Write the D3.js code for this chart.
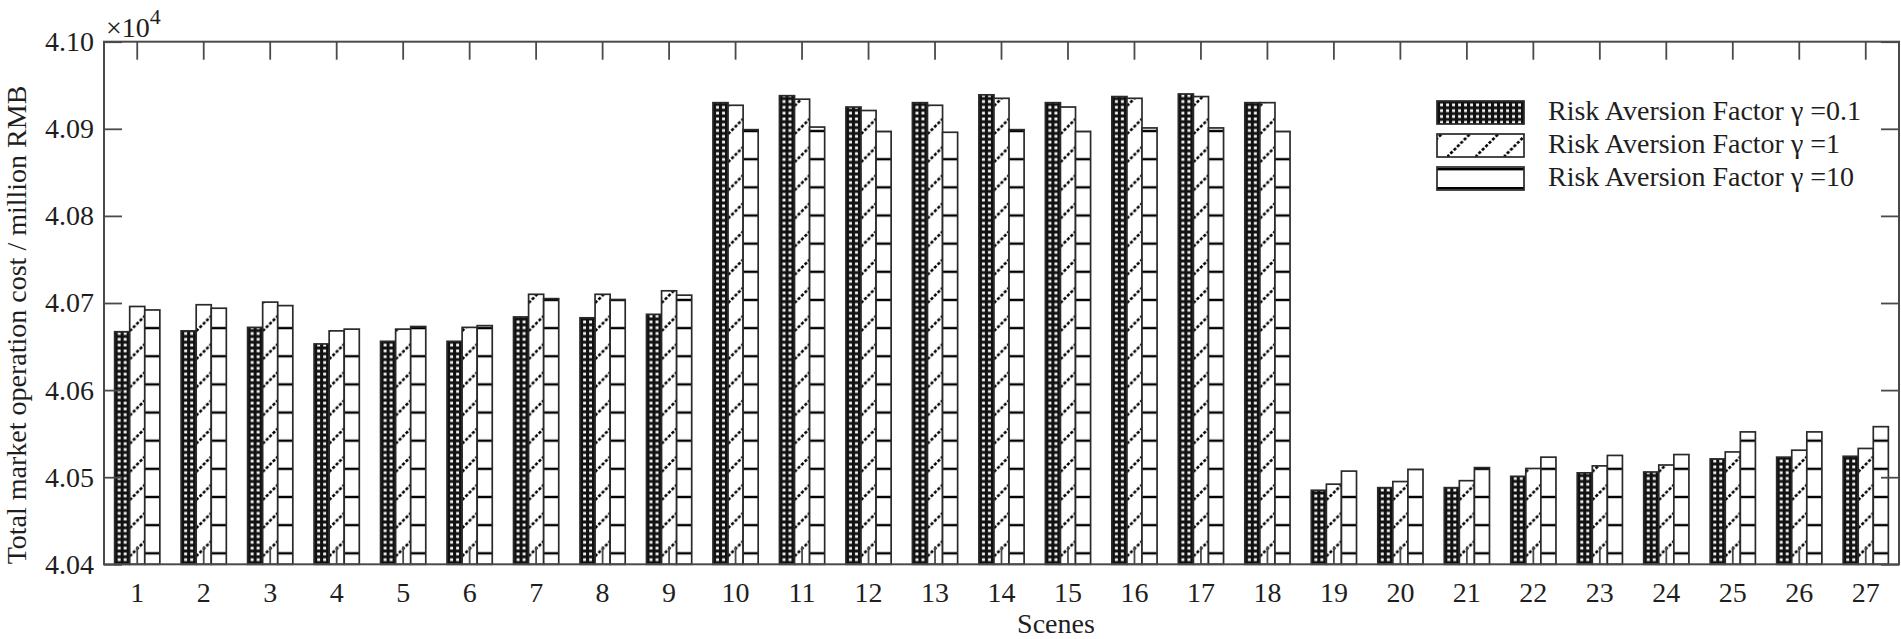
<!DOCTYPE html>
<html><head><meta charset="utf-8">
<script src="https://cdn.jsdelivr.net/npm/d3@7"></script>
<style>
body{margin:0;background:#fff}
svg{display:block}
</style>
</head><body>
<svg id="c" width="1901" height="639"></svg>
<script>
// ---------------- data ----------------
const categories = ["1","2","3","4","5","6","7","8","9","10","11","12","13","14","15","16","17","18","19","20","21","22","23","24","25","26","27"];
const seriesNames = ["Risk Aversion Factor \u03b3 =0.1", "Risk Aversion Factor \u03b3 =1", "Risk Aversion Factor \u03b3 =10"];
const gamma01 = [4.0667,4.0668,4.0672,4.0653,4.0656,4.0656,4.0684,4.0683,4.0687,4.0930,4.0938,4.0925,4.0930,4.0939,4.0930,4.0937,4.0940,4.0930,4.0485,4.0488,4.0488,4.0501,4.0505,4.0506,4.0521,4.0523,4.0524];
const gamma1  = [4.0696,4.0698,4.0701,4.0668,4.0670,4.0672,4.0710,4.0710,4.0714,4.0927,4.0934,4.0921,4.0927,4.0935,4.0925,4.0935,4.0937,4.0930,4.0492,4.0495,4.0496,4.0510,4.0513,4.0514,4.0529,4.0531,4.0533];
const gamma10 = [4.0692,4.0694,4.0697,4.0670,4.0673,4.0674,4.0705,4.0704,4.0709,4.0899,4.0902,4.0897,4.0896,4.0899,4.0897,4.0901,4.0901,4.0897,4.0507,4.0509,4.0511,4.0523,4.0525,4.0526,4.0552,4.0552,4.0558];
const yTicks = [4.04,4.05,4.06,4.07,4.08,4.09,4.10];
const yDomain = [4.04, 4.10];
const yLabel = "Total market operation cost / million RMB";
const xLabel = "Scenes";
const expBase = "\u00d710", expPow = "4";

// ---------------- layout ----------------
const FONT = '"Liberation Serif","Times New Roman",serif';
const FS = 28;
const AX = "#4a4a4a", TXT = "#1e1e1e", EDGE = "#2a2a2a";
const plot = {l:104, r:1899, t:41.7, b:564.3};
const svg = d3.select("#c");
const defs = svg.append("defs");

const x = d3.scaleBand().domain(categories).range([plot.l, plot.r]).padding(0);
const y = d3.scaleLinear().domain(yDomain).range([plot.b, plot.t]);
const groupW = x.bandwidth()*0.68;
const xs = d3.scaleBand().domain([0,1,2]).range([-groupW/2, groupW/2]).padding(0);
const bw = xs.bandwidth();

const series = [gamma01, gamma1, gamma10];
const P = 28.15;                 // hatch period (px)
const Y0 = 553.3 - 20*P;         // line phase origin

// horizontal-line pattern (global)
const hp = defs.append("pattern").attr("id","hl").attr("patternUnits","userSpaceOnUse")
  .attr("x",0).attr("y",Y0).attr("width",20).attr("height",P);
hp.append("rect").attr("width",20).attr("height",P).attr("fill","#fff");
hp.append("rect").attr("y",-1.2).attr("width",20).attr("height",2.4).attr("fill","#000");
hp.append("rect").attr("y",P-1.2).attr("width",20).attr("height",2.4).attr("fill","#000");

function dotPattern(id, x0, y0){
  const p = defs.append("pattern").attr("id",id).attr("patternUnits","userSpaceOnUse")
    .attr("x",x0).attr("y",y0).attr("width",6).attr("height",5.8);
  p.append("rect").attr("width",6).attr("height",5.8).attr("fill","#111");
  p.append("rect").attr("x",3.1).attr("y",1.5).attr("width",2.9).attr("height",2.8).attr("fill","#f6f6f6");
}
function hatchPattern(id, x0, w){
  const p = defs.append("pattern").attr("id",id).attr("patternUnits","userSpaceOnUse")
    .attr("x",x0).attr("y",Y0).attr("width",w).attr("height",P);
  p.append("rect").attr("width",w).attr("height",P).attr("fill","#fff");
  [0, P].forEach(off=>{
    p.append("line").attr("x1",0).attr("y1",off+3).attr("x2",w).attr("y2",off+3-w)
      .attr("stroke","#000").attr("stroke-width",2.6).attr("stroke-dasharray","3,1.8");
  });
}

// ---------------- bars ----------------
const barsG = svg.append("g");
categories.forEach((c,i)=>{
  series.forEach((s,k)=>{
    const x0 = x(c) + x.bandwidth()/2 + xs(k);
    let fill;
    if(k===0){ dotPattern("dot"+i, x0, 0); fill="url(#dot"+i+")"; }
    else if(k===1){ hatchPattern("hat"+i, x0, bw); fill="url(#hat"+i+")"; }
    else fill="url(#hl)";
    barsG.append("rect")
      .attr("x", x0).attr("y", y(s[i]))
      .attr("width", bw).attr("height", y(yDomain[0]) - y(s[i]))
      .attr("fill", fill).attr("stroke", EDGE).attr("stroke-width",1.7);
  });
});

// ---------------- axes ----------------
function styleAxis(g){
  g.attr("font-family",FONT).attr("font-size",FS);
  g.select(".domain").remove();
  g.selectAll(".tick line").attr("stroke",AX).attr("stroke-width",1.8);
  g.selectAll(".tick text").attr("fill",TXT);
}
svg.append("g").attr("transform",`translate(${plot.l},0)`)
  .call(d3.axisLeft(y).tickValues(yTicks).tickFormat(d3.format(".2f")).tickSize(-18).tickPadding(10))
  .call(styleAxis);
svg.append("g").attr("transform",`translate(${plot.r},0)`)
  .call(d3.axisRight(y).tickValues(yTicks).tickFormat("").tickSize(-18))
  .call(styleAxis);
svg.append("g").attr("transform",`translate(0,${plot.b})`)
  .call(d3.axisBottom(x).tickSize(-18).tickPadding(18))
  .call(styleAxis);
svg.append("g").attr("transform",`translate(0,${plot.t})`)
  .call(d3.axisTop(x).tickFormat("").tickSize(-18))
  .call(styleAxis);
svg.append("rect").attr("x",plot.l).attr("y",plot.t).attr("width",plot.r-plot.l).attr("height",plot.b-plot.t)
  .attr("fill","none").attr("stroke",AX).attr("stroke-width",2);

// exponent label
const ex = svg.append("text").attr("x",plot.l+2).attr("y",37).attr("font-family",FONT).attr("font-size",FS).attr("fill",TXT);
ex.append("tspan").text(expBase);
ex.append("tspan").attr("font-size",22).attr("dy",-13).text(expPow);

// axis titles
svg.append("text").attr("transform","translate(26,325) rotate(-90)").attr("text-anchor","middle")
  .attr("font-family",FONT).attr("font-size",FS).attr("fill",TXT).text(yLabel);
svg.append("text").attr("x",1056).attr("y",633).attr("text-anchor","middle")
  .attr("font-family",FONT).attr("font-size",FS).attr("fill",TXT).text(xLabel);

// ---------------- legend ----------------
const lg = {x:1437, w:87, h:23, tops:[101,134,167], tx:1548};
dotPattern("ldot", lg.x, lg.tops[0]+1);
(function(){
  const t = lg.tops[1], p = defs.append("pattern").attr("id","lhat").attr("patternUnits","userSpaceOnUse")
    .attr("x",lg.x+10).attr("y",t).attr("width",28.3).attr("height",lg.h);
  p.append("rect").attr("width",28.3).attr("height",lg.h).attr("fill","#fff");
  p.append("line").attr("x1",0).attr("y1",lg.h).attr("x2",lg.h).attr("y2",0)
    .attr("stroke","#000").attr("stroke-width",2.6).attr("stroke-dasharray","3,1.8");
  const t3 = lg.tops[2], q = defs.append("pattern").attr("id","lhl").attr("patternUnits","userSpaceOnUse")
    .attr("x",0).attr("y",t3+1).attr("width",20).attr("height",19);
  q.append("rect").attr("width",20).attr("height",19).attr("fill","#fff");
  q.append("rect").attr("y",0).attr("width",20).attr("height",2.4).attr("fill","#000");
})();
const lfills = ["url(#ldot)","url(#lhat)","url(#lhl)"];
seriesNames.forEach((name,k)=>{
  svg.append("rect").attr("x",lg.x).attr("y",lg.tops[k]).attr("width",lg.w).attr("height",lg.h)
    .attr("fill",lfills[k]).attr("stroke",EDGE).attr("stroke-width",1.7);
  svg.append("text").attr("x",lg.tx).attr("y",lg.tops[k]+19).attr("font-family",FONT).attr("font-size",FS)
    .attr("fill",TXT).text(name);
});
</script>
</body></html>
